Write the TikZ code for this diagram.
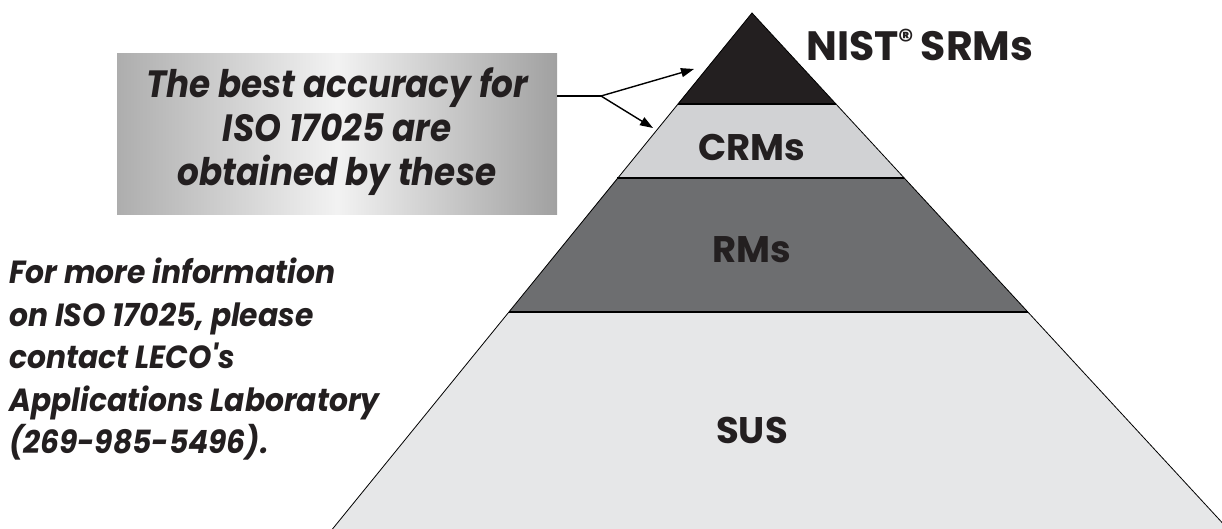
\documentclass[tikz,border=0pt]{standalone}
\usepackage{fontspec}
\setmainfont{Poppins}
\newfontfamily\condfont[FakeStretch=0.9]{Poppins}
\newfontfamily\sidefont[FakeStretch=0.93]{Poppins}
\usetikzlibrary{arrows.meta}
\definecolor{bandblack}{HTML}{231F20}
\definecolor{bandcrm}{HTML}{D1D2D4}
\definecolor{bandrm}{HTML}{6D6E70}
\definecolor{bandsus}{HTML}{E6E7E8}
\definecolor{txt}{HTML}{231F20}
\tikzset{
  band/.style={draw=black, line width=0.8pt},
  sep/.style={draw=black, line width=1.2pt},
  lbl/.style={font=\bfseries\fontsize{37}{40}\selectfont, text=txt, inner sep=0pt},
  boxtxt/.style={font=\condfont\bfseries\itshape\fontsize{38}{44}\selectfont, text=txt, align=center, inner sep=0pt},
  sidetxt/.style={font=\sidefont\bfseries\itshape\fontsize{32}{42.5}\selectfont, text=txt, align=left, inner sep=0pt},
  pointer/.style={draw=black, line width=1.4pt, -{Triangle[length=13pt,width=9pt]}}
}
\begin{document}
\begin{tikzpicture}[x=1pt,y=-1pt]
\useasboundingbox (0,0) rectangle (1222,529);
\begin{scope}
\clip (0,0) rectangle (1222,529);
% pyramid bands
\coordinate (apex) at (752,13);
\coordinate (l1) at (677.6,104); \coordinate (r1) at (836,104);
\coordinate (l2) at (617.4,178); \coordinate (r2) at (904.3,178);
\coordinate (l3) at (509,312);   \coordinate (r3) at (1028,312);
\coordinate (l4) at (332.5,529); \coordinate (r4) at (1228,529);
\fill[bandsus] (l3) -- (r3) -- (r4) -- (l4) -- cycle;
\fill[bandrm] (l2) -- (r2) -- (r3) -- (l3) -- cycle;
\fill[bandcrm] (l1) -- (r1) -- (r2) -- (l2) -- cycle;
\fill[bandblack] (apex) -- (r1) -- (l1) -- cycle;
\draw[band] (l4) -- (apex) -- (r4);
\draw[sep] (l1) -- (r1);
\draw[sep] (l2) -- (r2);
\draw[sep] (l3) -- (r3);
\end{scope}
% labels
\node[lbl, anchor=west, font=\bfseries\fontsize{41}{44}\selectfont] (nist) at (806,45) {NIST\raisebox{10pt}{\fontsize{30}{30}\selectfont ®}\,SRMs};
\node[lbl] (crm) at (752,148) {CRMs};
\node[lbl] (rm) at (752,250) {RMs};
\node[lbl] (sus) at (752,430) {SUS};
% gradient box
\shade[left color=black!32, right color=black!37, middle color=black!5] (117,54) rectangle (557,215);
\node[boxtxt] (box) at (337,132) {The best accuracy for\\ISO 17025 are\\obtained by these};
\coordinate (boxr) at (557,96);
\coordinate (fork) at (601,96);
\coordinate (t1) at (694,69);
\coordinate (t2) at (653,128);
\draw[line width=1.4pt] (boxr) -- (fork);
\draw[pointer] (fork) -- (t1);
\draw[pointer] (fork) -- (t2);
% side text
\node[sidetxt, anchor=north west] (side) at (9,258) {For more information\\on ISO 17025, please\\contact LECO's\\Applications Laboratory\\(269-985-5496).};
\end{tikzpicture}
\end{document}
